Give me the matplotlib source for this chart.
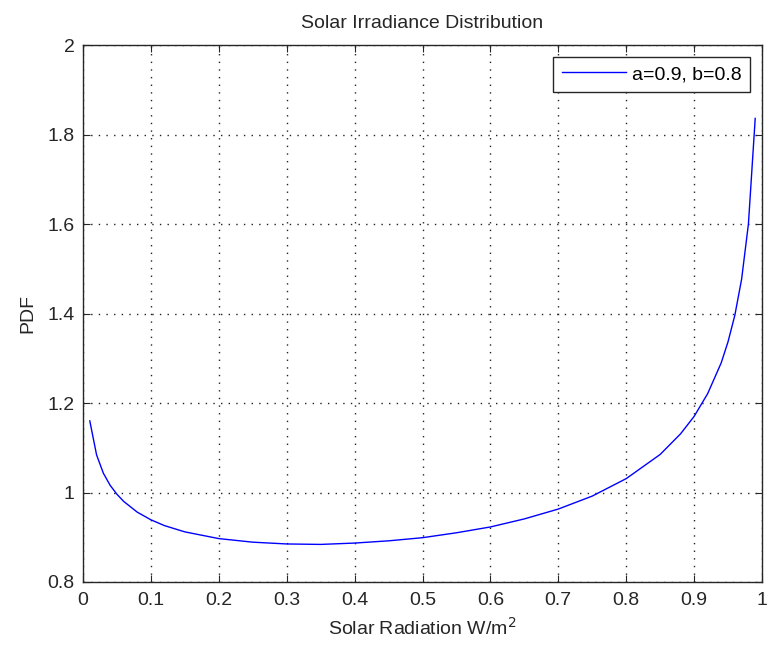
import numpy as np
import matplotlib
matplotlib.use('Agg')
import matplotlib.pyplot as plt

plt.rcParams['font.family'] = ['Liberation Sans', 'DejaVu Sans']

# values
x_vals = [0.01, 0.02, 0.03, 0.04, 0.05, 0.06, 0.08, 0.10, 0.12, 0.15,
          0.20, 0.25, 0.30, 0.35, 0.40, 0.45, 0.50, 0.55, 0.60, 0.65,
          0.70, 0.75, 0.80, 0.85, 0.88, 0.90, 0.92, 0.94, 0.95, 0.96,
          0.97, 0.98, 0.99]
pdf_vals = [1.160, 1.084, 1.043, 1.016, 0.996, 0.980, 0.956, 0.939, 0.926, 0.912,
            0.897, 0.889, 0.885, 0.884, 0.887, 0.892, 0.899, 0.910, 0.923, 0.941,
            0.963, 0.992, 1.031, 1.085, 1.131, 1.170, 1.221, 1.290, 1.337, 1.396,
            1.477, 1.600, 1.836]

x_ticks = [0, 0.1, 0.2, 0.3, 0.4, 0.5, 0.6, 0.7, 0.8, 0.9, 1]
x_labels = ['0', '0.1', '0.2', '0.3', '0.4', '0.5', '0.6', '0.7', '0.8', '0.9', '1']
y_ticks = [0.8, 1.0, 1.2, 1.4, 1.6, 1.8, 2.0]
y_labels = ['0.8', '1', '1.2', '1.4', '1.6', '1.8', '2']

fig = plt.figure(figsize=(7.67, 6.46), dpi=100)
# axes box: x 83..762 px, y 45..582 px
ax = fig.add_axes([83 / 767, 64 / 646, 679 / 767, 537 / 646])

ax.plot(x_vals, pdf_vals, color='#0000ff', linewidth=1.0, label='a=0.9, b=0.8')

ax.set_xlim(0, 1)
ax.set_ylim(0.8, 2)
ax.set_xticks(x_ticks)
ax.set_xticklabels(x_labels)
ax.set_yticks(y_ticks)
ax.set_yticklabels(y_labels)
ax.tick_params(direction='in', top=True, right=True, labelsize=14, length=5,
               colors='#262626', labelcolor='#262626')
ax.tick_params(axis='x', pad=7)
ax.tick_params(axis='y', pad=6)

ax.grid(True, color='#222222', linestyle=(0, (1, 4.5)), linewidth=1.0)
for s in ax.spines.values():
    s.set_linewidth(1.0)
    s.set_color('#262626')

ax.set_title('Solar Irradiance Distribution', fontsize=14, pad=12, color='#262626')
ax.set_xlabel(r'Solar Radiation W/m$^2$', fontsize=14, labelpad=6, color='#262626')
ax.set_ylabel('PDF', fontsize=14, labelpad=8, color='#262626')

leg = ax.legend(loc='upper right', fontsize=14, fancybox=False, framealpha=1,
                edgecolor='#262626', handlelength=3.3, handletextpad=0.3,
                borderpad=0.45, borderaxespad=0.6)
leg.get_frame().set_linewidth(1.0)

fig.savefig('out.png', dpi=100)
